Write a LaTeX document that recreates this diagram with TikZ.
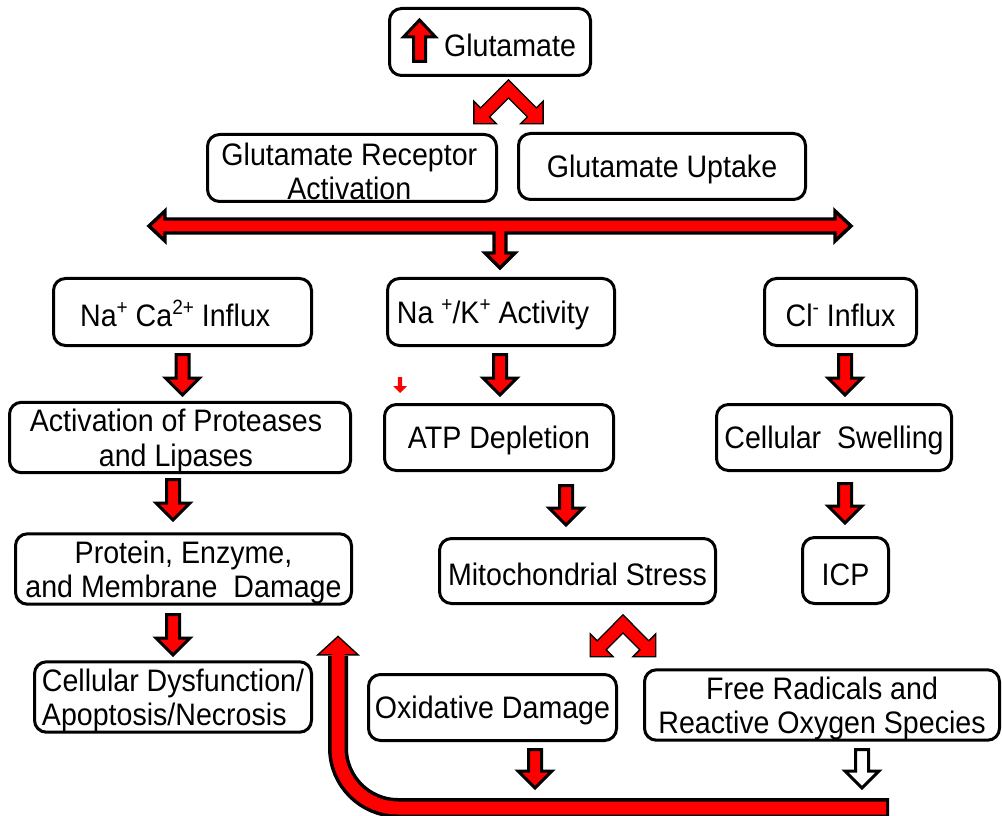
\documentclass[tikz,border=0pt]{standalone}
\usepackage{fontspec}
\setmainfont{Liberation Sans}[FakeStretch=0.92]
\usetikzlibrary{calc}
\newcommand\fatdown[4][redarr]{%
  \path[#1] ({#2-6.5},#3) -- ({#2-6.5},{#4-17}) -- ({#2-17},{#4-17}) -- (#2,#4) -- ({#2+17},{#4-17}) -- ({#2+6.5},{#4-17}) -- ({#2+6.5},#3) -- cycle;}
\newcommand\chevarm[4]{%
  \begin{scope}[shift={#2}, rotate=#3]
    \path[#1] (-5.5,-5.5) -- ({#4-14},-5.5) -- ({#4-14},-14) -- (#4,0) -- ({#4-14},14) -- ({#4-14},5.5) -- (-5.5,5.5) -- cycle;
  \end{scope}}
\newcommand\sps[1]{\raisebox{0.4em}{\fontsize{15.5}{15.5}\selectfont #1}}
\newcommand\tstrut{\rule{0pt}{22pt}}
\tikzset{
  nbox/.style={draw=black, line width=2.25pt, rounded corners=9pt, fill=white, align=center, inner sep=0pt, font=\fontsize{23.3}{26}\selectfont},
  redarr/.style={draw=black, line width=2.25pt, fill=red, line join=miter, miter limit=10},
  whitearr/.style={draw=black, line width=2.25pt, fill=white, line join=miter, miter limit=10},
  outlinepass/.style={draw=black, fill=black, line width=2.25pt, line join=miter, miter limit=10},
}
\begin{document}
\begin{tikzpicture}[x=0.75pt, y=-0.75pt]
\fill[white] (0,0) rectangle (1002,816);
\useasboundingbox (0,0) rectangle (1002,816);

% boxes
\node[nbox, minimum width=150.75pt, minimum height=50.25pt] (glu) at (490,42) {\tstrut\hspace*{30pt}Glutamate};
\node[nbox, minimum width=216.75pt, minimum height=50.25pt] (gra) at (352,168) {\tstrut Glutamate Receptor\hspace*{4pt}\\Activation\hspace*{4pt}};
\node[nbox, minimum width=215.25pt, minimum height=49.5pt] (upt) at (662,166.5) {\tstrut Glutamate Uptake};
\node[nbox, minimum width=193.5pt, minimum height=50.25pt] (naca) at (182.5,312) {\tstrut Na\sps{+} Ca\sps{2+} Influx\hspace*{11pt}};
\node[nbox, minimum width=170.25pt, minimum height=50.25pt] (nak) at (501,312) {\tstrut Na \sps{+}/K\sps{+} Activity\hspace*{12pt}};
\node[nbox, minimum width=114pt, minimum height=50.25pt] (cl) at (840.5,312) {\tstrut Cl\sps{-} Influx};
\node[nbox, minimum width=255.75pt, minimum height=49.5pt] (prot) at (180,437.5) {\tstrut Activation of Proteases\hspace*{6pt}\\and Lipases\hspace*{6pt}};
\node[nbox, minimum width=171.75pt, minimum height=49.5pt] (atp) at (499,437.5) {\tstrut ATP Depletion};
\node[nbox, minimum width=176.25pt, minimum height=49.5pt] (swell) at (834,437.5) {\tstrut Cellular\ \ Swelling};
\node[nbox, minimum width=252pt, minimum height=48.75pt] (dmg) at (183.5,569) {\tstrut Protein, Enzyme,\\and Membrane\ \ Damage};
\node[nbox, minimum width=207pt, minimum height=48.75pt] (mito) at (577.5,571) {\tstrut Mitochondrial Stress};
\node[nbox, minimum width=64.5pt, minimum height=49.5pt] (icp) at (845.5,570.5) {\tstrut ICP};
\node[nbox, align=left, minimum width=207.75pt, minimum height=50.25pt] (dysf) at (173,697) {\tstrut Cellular Dysfunction/\\Apoptosis/Necrosis};
\node[nbox, minimum width=186pt, minimum height=49.5pt] (oxd) at (492.5,707.5) {\tstrut Oxidative Damage};
\node[nbox, minimum width=266.25pt, minimum height=50.25pt] (frad) at (822,705) {\tstrut Free Radicals and\\Reactive Oxygen Species};

% up arrow inside glutamate box
\path[redarr] (419.5,20) -- (435.5,37) -- (425.5,37) -- (425.5,61.5) -- (413.5,61.5) -- (413.5,37) -- (403.5,37) -- cycle;

% top chevron
\chevarm{outlinepass}{(508.5,89)}{-135}{48}
\chevarm{outlinepass}{(508.5,89)}{-45}{48}
\chevarm{fill=red}{(508.5,89)}{-135}{48}
\chevarm{fill=red}{(508.5,89)}{-45}{48}

% big double arrow with down branch
\path[redarr, line width=2.6pt] (149,226) -- (165,211) -- (165,219) -- (835,219) -- (835,211) -- (851,226) -- (835,241) -- (835,233) -- (506,233) -- (506,253) -- (515,253) -- (500,268) -- (485,253) -- (494,253) -- (494,233) -- (165,233) -- (165,241) -- cycle;

% down arrows
\fatdown{182.5}{354.5}{395}
\fatdown{500}{354.5}{395}
\fatdown{845}{354.5}{395}
\fatdown{173}{479.5}{520}
\fatdown{566}{485.5}{525}
\fatdown{845}{483.5}{523}
\fatdown{173}{614.5}{655}
\fatdown{535}{749.5}{788}
\fatdown[whitearr]{862}{749.5}{788}

% small red arrow
\path[fill=red] (400,393) -- (407,386) -- (402.2,386) -- (402.2,377) -- (397.8,377) -- (397.8,386) -- (393,386) -- cycle;

% bottom chevron
\chevarm{outlinepass}{(623,624)}{-135}{45}
\chevarm{outlinepass}{(623,624)}{-45}{45}
\chevarm{fill=red}{(623,624)}{-135}{45}
\chevarm{fill=red}{(623,624)}{-45}{45}

% big L-shaped feedback arrow
\draw[black, line width=15pt, rounded corners=45pt] (338,656) -- (338,808) -- (889,808);
\path[outlinepass] (338,637.5) -- (320,654) -- (356,654) -- cycle;
\draw[red, line width=9.75pt, rounded corners=45pt] (338,652) -- (338,808) -- (886,808);
\path[fill=red] (338,637.5) -- (320,654) -- (356,654) -- cycle;
\end{tikzpicture}
\end{document}
